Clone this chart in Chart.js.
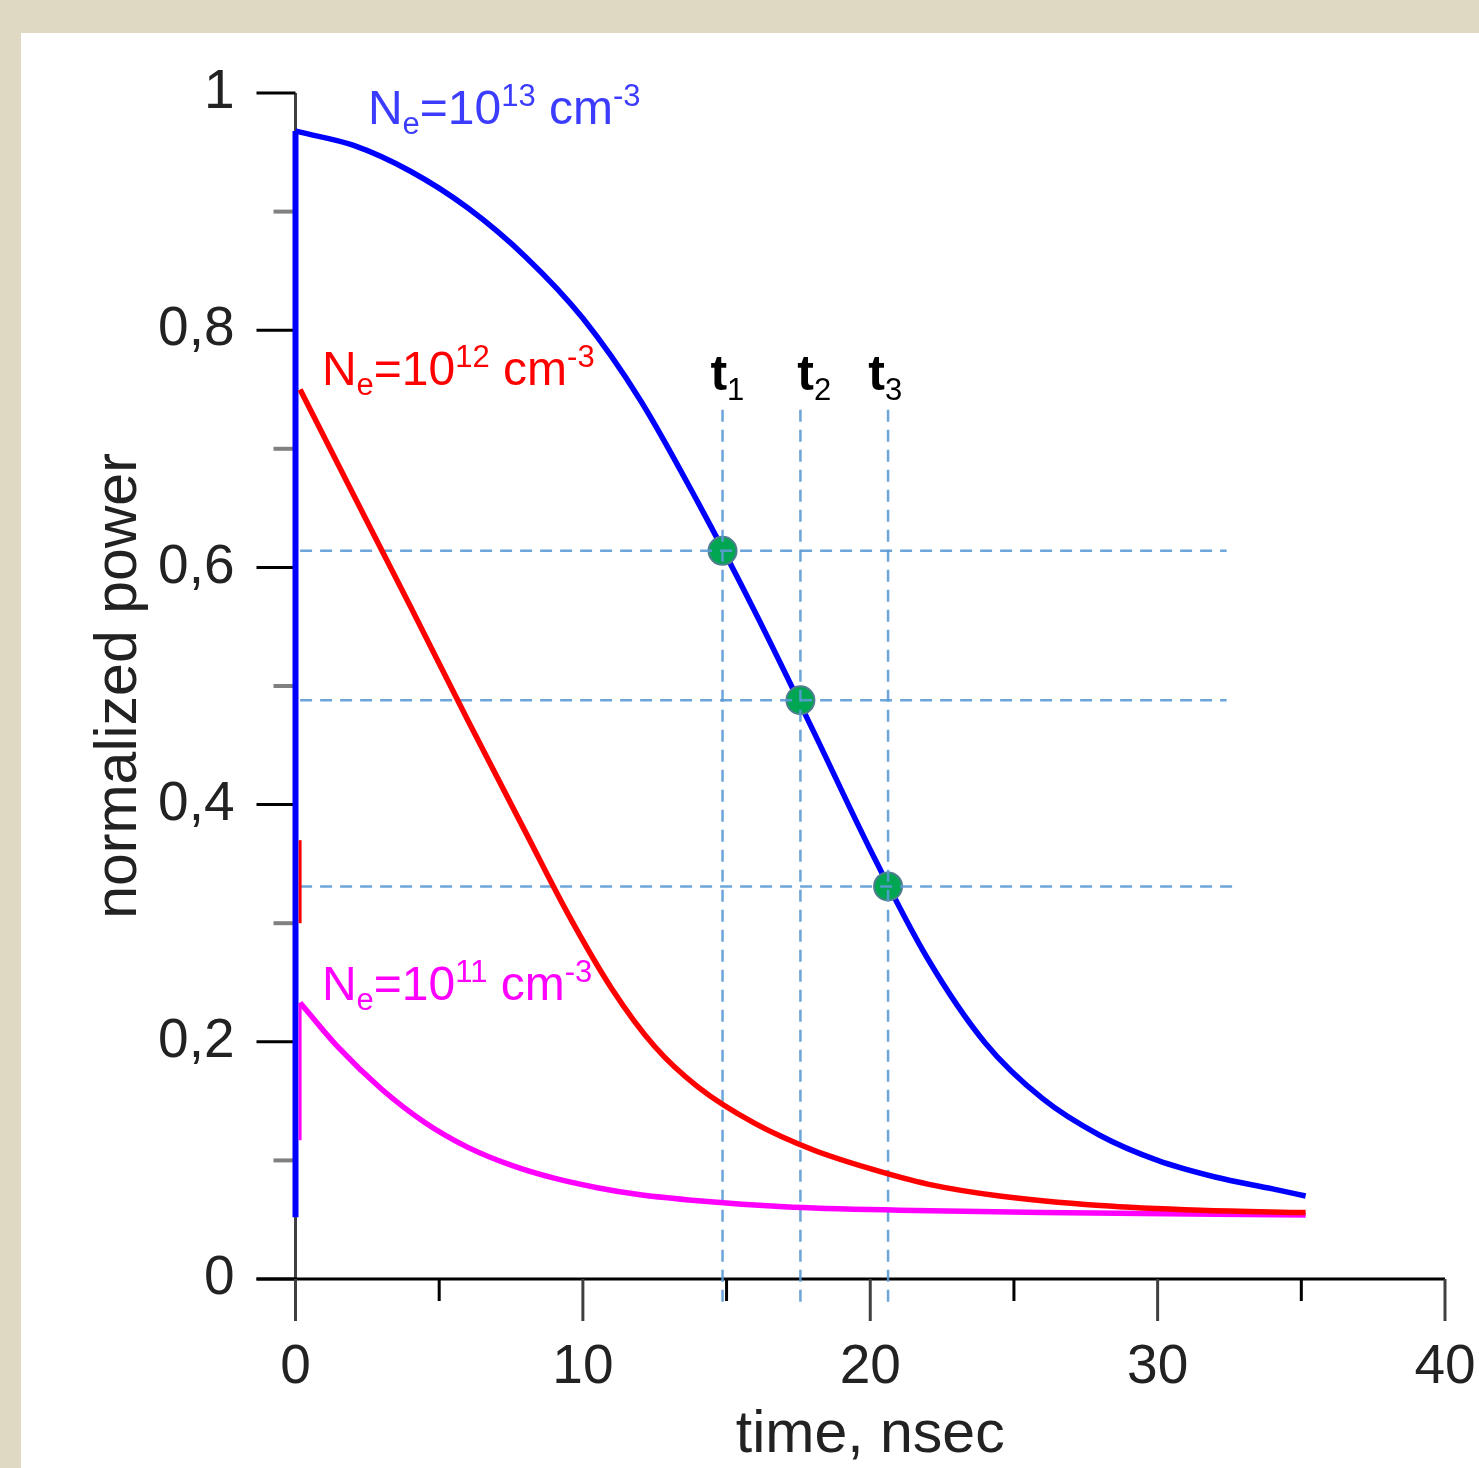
<!DOCTYPE html>
<html>
<head>
<meta charset="utf-8">
<script src="https://cdn.jsdelivr.net/npm/chart.js@4.4.0/dist/chart.umd.min.js"></script>
<style>
  body { margin: 0; background: #dfd9c4; }
  canvas { display: block; }
</style>
</head>
<body>
<canvas id="myChart" width="1479" height="1468"></canvas>
<script>
// axis ticks
var xMajor = [0, 10, 20, 30, 40];
var xLabels = ['0', '10', '20', '30', '40'];
var xMinor = [5, 15, 25, 35];
var yMajor = [0, 0.2, 0.4, 0.6, 0.8, 1];
var yLabels = ['0', '0,2', '0,4', '0,6', '0,8', '1'];
var yMinor = [0.1, 0.3, 0.5, 0.7, 0.9];

// Ne = 1e13 cm-3 (blue)
var blueTime  = [0, 0.16, 2, 4, 6, 8, 10, 12, 14, 16, 18, 20, 22, 24, 26, 28, 30, 32, 34, 35.15];
var bluePower = [0.968, 0.967, 0.956, 0.934, 0.903, 0.862, 0.810, 0.741, 0.655, 0.562, 0.463, 0.362, 0.270, 0.199, 0.152, 0.121, 0.100, 0.086, 0.076, 0.070];
var blueJumpTime  = [0, 0];
var blueJumpPower = [0.052, 0.968];

// Ne = 1e12 cm-3 (red)
var redTime  = [0.16, 2, 4, 6, 8, 9.5, 11, 12.5, 14, 16, 18, 20, 22, 24.5, 28, 31.5, 35.15];
var redPower = [0.750, 0.662, 0.567, 0.471, 0.377, 0.307, 0.245, 0.196, 0.162, 0.131, 0.109, 0.093, 0.080, 0.070, 0.062, 0.058, 0.056];
var redJumpTime  = [0.16, 0.16];
var redJumpPower = [0.30, 0.37];

// Ne = 1e11 cm-3 (magenta)
var magTime  = [0.16, 1.5, 3, 4.5, 6, 7.5, 9, 10.5, 12, 14, 17, 21, 26, 35.15];
var magPower = [0.233, 0.195, 0.160, 0.132, 0.111, 0.096, 0.085, 0.077, 0.071, 0.066, 0.061, 0.058, 0.056, 0.054];
var magJumpTime  = [0.16, 0.16];
var magJumpPower = [0.117, 0.233];

// marked points t1, t2, t3
var markTime  = [14.86, 17.57, 20.62];
var markPower = [0.614, 0.488, 0.331];
var guideStart = 0.16;
var guideEnd = [32.4, 32.4, 32.6];
var guideTop = 0.733;
var guideBottom = -0.022;

var pts = (xs, ys) => xs.map((x, i) => ({ x: x, y: ys[i] }));

var curve = (data, color, width, order) => ({
    data: data, showLine: true, borderColor: color, backgroundColor: color,
    borderWidth: width, pointRadius: 0, cubicInterpolationMode: 'monotone',
    borderCapStyle: 'butt', borderJoinStyle: 'miter', clip: false, order: order
});

var dashed = (data) => ({
    data: data, showLine: true, borderColor: 'rgba(91,155,213,0.9)', borderWidth: 2.5,
    borderDash: [12, 8], pointRadius: 0, clip: false, order: 1
});

var datasets = [
    curve(pts(blueJumpTime, blueJumpPower), '#0000ff', 6, 3),
    curve(pts(blueTime, bluePower), '#0000ff', 5.5, 3),
    curve(pts(redJumpTime, redJumpPower), '#ff0000', 3, 0),
    curve(pts(redTime, redPower), '#ff0000', 5.5, 0),
    curve(pts(magJumpTime, magJumpPower), '#ff00ff', 3, 0),
    curve(pts(magTime, magPower), '#ff00ff', 5.5, 0),
    {
        data: pts(markTime, markPower), showLine: false, pointRadius: 14,
        pointBackgroundColor: '#00a651', pointBorderColor: '#4f7f8f', pointBorderWidth: 2, order: 2
    }
];
markPower.forEach((p, i) => datasets.push(dashed([{ x: guideStart, y: p }, { x: guideEnd[i], y: p }])));
markTime.forEach(t => datasets.push(dashed([{ x: t, y: guideTop }, { x: t, y: guideBottom }])));

var axesPlugin = {
    id: 'axes',
    beforeDraw: (chart) => {
        var c = chart.ctx;
        c.save();
        c.fillStyle = '#dfd9c4';
        c.fillRect(0, 0, chart.width, chart.height);
        c.fillStyle = '#ffffff';
        c.fillRect(21, 33, chart.width - 21, chart.height - 33);
        c.restore();
    },
    beforeDatasetsDraw: (chart) => {
        var c = chart.ctx, xs = chart.scales.x, ys = chart.scales.y;
        var x0 = xs.getPixelForValue(0), y0 = ys.getPixelForValue(0);
        var line = (ax, ay, bx, by, color, w) => {
            c.strokeStyle = color; c.lineWidth = w;
            c.beginPath(); c.moveTo(ax, ay); c.lineTo(bx, by); c.stroke();
        };
        c.save();
        // y axis
        line(x0, ys.getPixelForValue(1), x0, y0 + 42, '#404040', 3);
        yMajor.forEach(v => line(x0 - 39, ys.getPixelForValue(v), x0, ys.getPixelForValue(v), '#000', 3));
        yMinor.forEach(v => line(x0 - 22, ys.getPixelForValue(v), x0, ys.getPixelForValue(v), '#808080', 4));
        // x axis
        line(x0 - 39, y0, xs.getPixelForValue(40), y0, '#000', 3);
        xMajor.forEach(v => line(xs.getPixelForValue(v), y0, xs.getPixelForValue(v), y0 + 42, '#404040', 3));
        xMinor.forEach(v => line(xs.getPixelForValue(v), y0, xs.getPixelForValue(v), y0 + 22, '#000', 3));
        c.restore();
    }
};

var richText = (c, x, y, parts, color) => {
    c.fillStyle = color; c.textAlign = 'left'; c.textBaseline = 'alphabetic';
    parts.forEach(p => {
        c.font = p.font;
        c.fillText(p.t, x, y + p.dy);
        x += c.measureText(p.t).width;
    });
};

var neLabels = [
    { exp: '13', color: '#3c3cff', x: 2.52, y: 0.974 },
    { exp: '12', color: '#ff0000', x: 0.92, y: 0.754 },
    { exp: '11', color: '#ff00ff', x: 0.92, y: 0.235 }
];
var tLabels = [
    { sub: '1', x: 14.44 },
    { sub: '2', x: 17.46 },
    { sub: '3', x: 19.93 }
];

var labelPlugin = {
    id: 'labels',
    afterDatasetsDraw: (chart) => {
        var c = chart.ctx, xs = chart.scales.x, ys = chart.scales.y;
        var big = '48px "Liberation Sans", Arial, sans-serif';
        var small = '31px "Liberation Sans", Arial, sans-serif';
        c.save();
        neLabels.forEach(l => {
            richText(c, xs.getPixelForValue(l.x), ys.getPixelForValue(l.y), [
                { t: 'N', font: big, dy: 0 },
                { t: 'e', font: small, dy: 10 },
                { t: '=10', font: big, dy: 0 },
                { t: l.exp, font: small, dy: -18 },
                { t: ' cm', font: big, dy: 0 },
                { t: '-3', font: small, dy: -18 }
            ], l.color);
        });
        tLabels.forEach(l => {
            richText(c, xs.getPixelForValue(l.x), ys.getPixelForValue(0.7496), [
                { t: 't', font: 'bold 50px "Liberation Sans", Arial, sans-serif', dy: 0 },
                { t: l.sub, font: '31px "Liberation Sans", Arial, sans-serif', dy: 10 }
            ], '#000');
        });
        c.restore();
    }
};

var hiddenGrid = { display: true, drawOnChartArea: false, drawTicks: true, color: 'rgba(0,0,0,0)', tickColor: 'rgba(0,0,0,0)' };

var ctx = document.getElementById('myChart').getContext('2d');
var myChart = new Chart(ctx, {
    type: 'scatter',
    data: { datasets: datasets },
    options: {
        responsive: false,
        animation: false,
        layout: { padding: { left: 0, top: 93, right: 34, bottom: 0 } },
        plugins: { legend: { display: false }, tooltip: { enabled: false } },
        scales: {
            x: {
                type: 'linear', min: 0, max: 40,
                afterFit: (s) => { s.height = 189; },
                afterBuildTicks: (s) => { s.ticks = xMajor.map(v => ({ value: v })); },
                grid: Object.assign({ tickLength: 56 }, hiddenGrid),
                border: { display: false },
                ticks: {
                    padding: 0, color: '#222',
                    font: { family: '"Liberation Sans", Arial, sans-serif', size: 55 },
                    callback: (v, i) => xLabels[i]
                },
                title: {
                    display: true, text: 'time, nsec', color: '#222',
                    font: { family: '"Liberation Sans", Arial, sans-serif', size: 59, lineHeight: 1 },
                    padding: { top: 0, bottom: 3 }
                }
            },
            y: {
                type: 'linear', min: 0, max: 1,
                afterFit: (s) => { s.width = 295.5; },
                afterBuildTicks: (s) => { s.ticks = yMajor.map(v => ({ value: v })); },
                grid: Object.assign({ tickLength: 61 }, hiddenGrid),
                border: { display: false },
                ticks: {
                    padding: 0, color: '#222',
                    font: { family: '"Liberation Sans", Arial, sans-serif', size: 55 },
                    callback: (v, i) => yLabels[i]
                },
                title: {
                    display: true, text: 'normalized power', color: '#222',
                    font: { family: '"Liberation Sans", Arial, sans-serif', size: 59, lineHeight: 1 },
                    padding: { top: 90, bottom: 0 }
                }
            }
        }
    },
    plugins: [axesPlugin, labelPlugin]
});
</script>
</body>
</html>
